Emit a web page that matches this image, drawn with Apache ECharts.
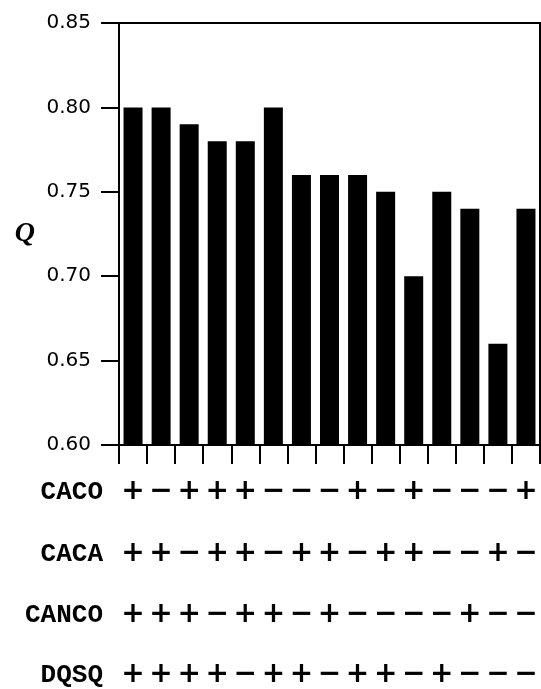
<!DOCTYPE html>
<html>
<head>
<meta charset="utf-8">
<script src="https://cdn.jsdelivr.net/npm/echarts@6/dist/echarts.min.js"></script>
<style>
html,body{margin:0;padding:0;background:#fff;}
#chart{width:541px;height:689px;}
</style>
</head>
<body>
<div id="chart"></div>
<script>
var categories = ['1','2','3','4','5','6','7','8','9','10','11','12','13','14','15'];
var qValues = [0.80, 0.80, 0.79, 0.78, 0.78, 0.80, 0.76, 0.76, 0.76, 0.75, 0.70, 0.75, 0.74, 0.66, 0.74];
var rowNames = ['CACO', 'CACA', 'CANCO', 'DQSQ'];
var signsCACO  = ['+','-','+','+','+','-','-','-','+','-','+','-','-','-','+'];
var signsCACA  = ['+','+','-','+','+','-','+','+','-','+','+','-','-','+','-'];
var signsCANCO = ['+','+','+','-','+','+','-','+','-','-','-','-','+','-','-'];
var signsDQSQ  = ['+','+','+','+','-','+','+','-','+','+','-','+','-','-','-'];
var yTicks = {min: 0.60, max: 0.85, interval: 0.05};

var signRows = [signsCACO, signsCACA, signsCANCO, signsDQSQ];
var rowOffsets = [47, 109, 170, 230];

var chart = echarts.init(document.getElementById('chart'), null, {renderer: 'canvas'});

var xAxes = [{
  type: 'category',
  data: categories,
  gridIndex: 0,
  position: 'bottom',
  boundaryGap: true,
  axisLine: {show: true, lineStyle: {color: '#000', width: 2}},
  axisTick: {show: true, inside: false, length: 19, interval: 0, lineStyle: {color: '#000', width: 2}},
  axisLabel: {show: false},
  splitLine: {show: false}
}];
signRows.forEach(function (row, i) {
  xAxes.push({
    type: 'category',
    data: row,
    gridIndex: 0,
    position: 'bottom',
    offset: rowOffsets[i],
    boundaryGap: true,
    axisLine: {show: false},
    axisTick: {show: false},
    splitLine: {show: false},
    axisLabel: {
      show: true,
      interval: 0,
      margin: 0,
      verticalAlign: 'middle',
      color: '#000',
      fontFamily: 'DejaVu Sans',
      fontWeight: 'bold',
      fontSize: 28,
      formatter: function (v) { return v === '-' ? '\u2212' : v; }
    },
    name: rowNames[i],
    nameLocation: 'start',
    nameGap: 16,
    nameTextStyle: {
      color: '#000',
      fontFamily: 'Liberation Mono',
      fontWeight: 'bold',
      fontSize: 26,
      verticalAlign: 'middle',
      align: 'right'
    }
  });
});

chart.setOption({
  animation: false,
  backgroundColor: '#fff',
  grid: {
    left: 119, right: 1, top: 23, height: 422,
    show: true, borderColor: '#000', borderWidth: 2, backgroundColor: 'transparent'
  },
  xAxis: xAxes,
  yAxis: {
    type: 'value',
    min: yTicks.min,
    max: yTicks.max,
    interval: yTicks.interval,
    axisLine: {show: true, lineStyle: {color: '#000', width: 2}},
    axisTick: {show: true, inside: false, length: 18, lineStyle: {color: '#000', width: 2}},
    splitLine: {show: false},
    axisLabel: {
      margin: 28,
      color: '#000',
      fontFamily: 'DejaVu Sans',
      fontSize: 20,
      formatter: function (v) { return v.toFixed(2); }
    },
    name: 'Q',
    nameLocation: 'middle',
    nameRotate: 0,
    nameGap: 84,
    nameTextStyle: {
      color: '#000',
      fontFamily: 'Liberation Serif',
      fontStyle: 'italic',
      fontWeight: 'bold',
      fontSize: 28,
      padding: [14, 0, 0, 0]
    }
  },
  series: [{
    type: 'bar',
    data: qValues,
    xAxisIndex: 0,
    barWidth: 19,
    itemStyle: {color: '#000'}
  }]
});
</script>
</body>
</html>
